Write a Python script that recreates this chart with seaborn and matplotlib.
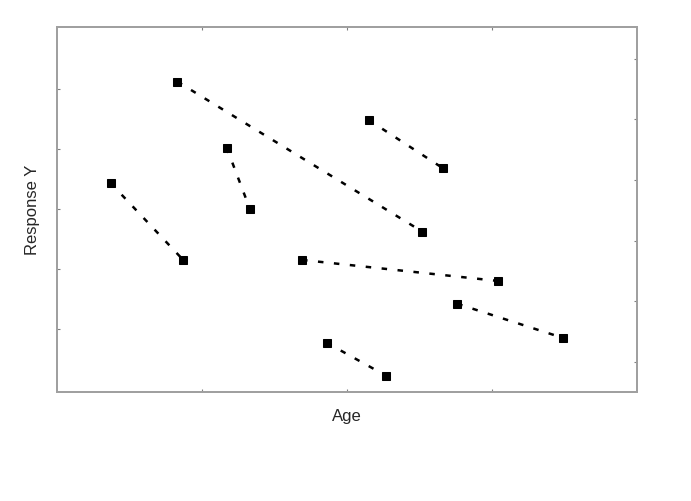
import matplotlib.pyplot as plt
import pandas as pd
import seaborn as sns

# one subject = two visits joined by a dashed line
subject = ["A", "A", "B", "B", "C", "C", "D", "D", "E", "E", "F", "F", "G", "G"]
age = [0.37, 0.87, 0.83, 2.52, 1.17, 1.33, 2.15, 2.66,
       1.69, 3.04, 2.76, 3.49, 1.86, 2.27]
response = [3.43, 2.15, 5.12, 2.62, 4.02, 3.00, 4.48, 3.68,
            2.15, 1.80, 1.42, 0.85, 0.77, 0.22]

x_ticks = [1, 2, 3]
y_ticks_left = [1, 2, 3, 4, 5]
y_ticks_right = [0.45, 1.46, 2.47, 3.48, 4.49, 5.50]

df = pd.DataFrame({"subject": subject, "Age": age, "Response Y": response})

sns.set_style("white")
plt.rcParams["font.family"] = ["Liberation Sans", "DejaVu Sans"]

fig = plt.figure(figsize=(6.91, 5.01), dpi=100)
ax = fig.add_axes([0.0825, 0.2176, 0.8394, 0.7285])

sns.lineplot(
    data=df, x="Age", y="Response Y", units="subject", estimator=None,
    color="black", linewidth=1.8, linestyle=(0, (2.2, 4.2)),
    marker="s", markersize=5.2, markeredgecolor="black", ax=ax
)

ax.set_xlim(0, 4)
ax.set_ylim(-0.05, 6.03)
ax.set_xticks(x_ticks)
ax.set_yticks(y_ticks_left)
ax.set_xticklabels([])
ax.set_yticklabels([])
ax.tick_params(direction="in", length=2.5, width=0.8, color="#808080",
               top=True, bottom=True, left=True, right=False)

# the right-hand ticks sit at other heights, so use a twin axis
ax2 = ax.twinx()
ax2.set_ylim(ax.get_ylim())
ax2.set_yticks(y_ticks_right)
ax2.set_yticklabels([])
ax2.tick_params(direction="in", length=2.5, width=0.8, color="#808080",
                left=False, right=True)

for a in (ax, ax2):
    for s in a.spines.values():
        s.set_color("#a0a0a0")
        s.set_linewidth(1.3)

ax.set_xlabel("Age", fontsize=12, labelpad=9)
ax.set_ylabel("Response Y", fontsize=12, labelpad=9)

fig.savefig("out.png", dpi=100)
